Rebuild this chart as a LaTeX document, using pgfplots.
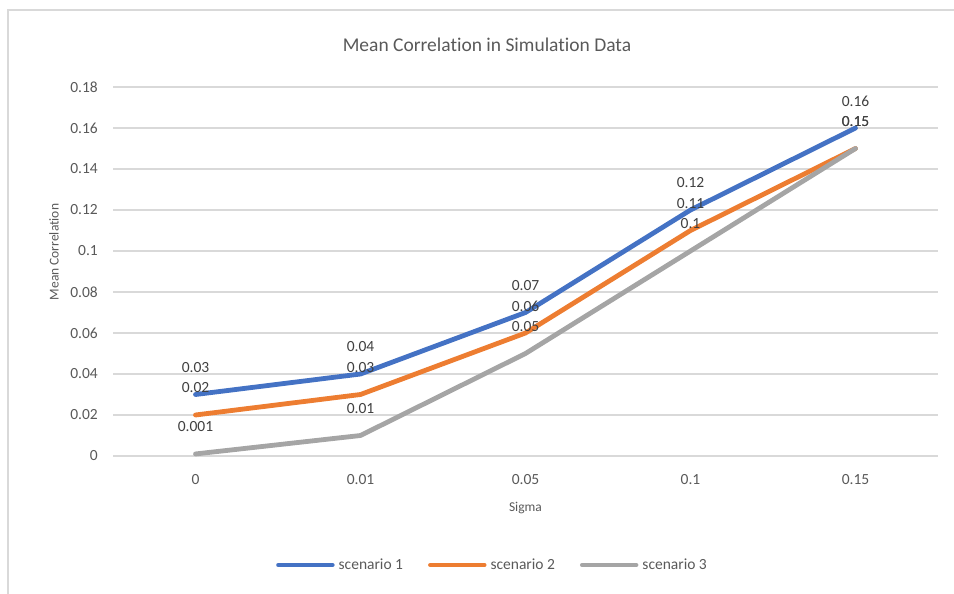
\documentclass[border=0pt]{standalone}
\usepackage{pgfplots}
\pgfplotsset{compat=1.18}
\usepackage{fontspec}
\setmainfont{Carlito}[Ligatures={NoCommon,NoRequired}, Contextuals=NoAlternate]
\definecolor{s1}{HTML}{4472C4}
\definecolor{s2}{HTML}{ED7D31}
\definecolor{s3}{HTML}{A5A5A5}
\definecolor{gridc}{HTML}{D9D9D9}
\definecolor{txt}{HTML}{595959}
\definecolor{lbl}{HTML}{404040}
\newcommand{\fs}[1]{\fontsize{#1}{#1}\selectfont}

\begin{document}
\begin{tikzpicture}
\path[use as bounding box] (0,0) rectangle (954bp,594bp);
\draw[gridc, line width=1.2bp] (8bp,0) -- (8bp,584bp) -- (954bp,584bp);
\node[txt, anchor=base, font=\fs{19.5bp}] at (487bp,542bp) {Mean Correlation in Simulation Data};
\begin{axis}[
  at={(113bp,138bp)}, anchor=south west,
  scale only axis, width=825bp, height=369bp,
  xmin=-0.5, xmax=4.5, ymin=0, ymax=0.18,
  clip=false, no markers,
  xtick={0,1,2,3,4}, xticklabels={0,0.01,0.05,0.1,0.15},
  ytick={0,0.02,0.04,0.06,0.08,0.1,0.12,0.14,0.16,0.18},
  yticklabels={0,0.02,0.04,0.06,0.08,0.1,0.12,0.14,0.16,0.18},
  axis line style={draw=none}, major tick length=0,
  ymajorgrids, grid style={gridc, line width=1.2bp},
  ticklabel style={txt, font=\fs{15.5bp}, inner sep=0},
  xticklabel style={anchor=base, yshift=-29bp},
  yticklabel style={anchor=east, xshift=-15bp},
  xlabel={Sigma}, ylabel={Mean Correlation},
  label style={txt, font=\fs{13.5bp}},
  xlabel style={at={(axis description cs:0.5,-0.1504)}, anchor=base},
  ylabel style={at={(axis description cs:-0.0715,0.5528)}, anchor=center},
  legend columns=3,
  legend style={at={(axis description cs:0.4594,-0.2954)}, anchor=center,
    draw=none, fill=none, font=\fs{15.5bp}, text=txt, inner sep=0,
    nodes={inner sep=1bp},
    /tikz/every odd column/.append style={column sep=3bp},
    /tikz/every even column/.append style={column sep=24bp}},
  legend image code/.code={\draw[#1, line width=4.5bp, line cap=round] (0bp,0bp) -- (54bp,0bp);},
  every node near coord/.append style={lbl, font=\fs{15.5bp}, anchor=center, yshift=27bp, inner sep=0},
]
% lines
\addplot[s1, line width=4.8bp, line join=round, line cap=round]
  coordinates {(0,0.03) (1,0.04) (2,0.07) (3,0.12) (4,0.16)};
\addlegendentry{scenario 1}
\addplot[s2, line width=4.8bp, line join=round, line cap=round]
  coordinates {(0,0.02) (1,0.03) (2,0.06) (3,0.11) (4,0.15)};
\addlegendentry{scenario 2}
\addplot[s3, line width=4.8bp, line join=round, line cap=round]
  coordinates {(0,0.001) (1,0.01) (2,0.05) (3,0.1) (4,0.15)};
\addlegendentry{scenario 3}
% data labels on top
\addplot[draw=none, forget plot, point meta=explicit symbolic, nodes near coords={\pgfplotspointmeta}]
  coordinates {(0,0.03)[0.03] (1,0.04)[0.04] (2,0.07)[0.07] (3,0.12)[0.12] (4,0.16)[0.16]};
\addplot[draw=none, forget plot, point meta=explicit symbolic, nodes near coords={\pgfplotspointmeta}]
  coordinates {(0,0.02)[0.02] (1,0.03)[0.03] (2,0.06)[0.06] (3,0.11)[0.11] (4,0.15)[0.15]};
\addplot[draw=none, forget plot, point meta=explicit symbolic, nodes near coords={\pgfplotspointmeta}]
  coordinates {(0,0.001)[0.001] (1,0.01)[0.01] (2,0.05)[0.05] (3,0.1)[0.1] (4,0.15)[0.15]};
\end{axis}
\end{tikzpicture}
\end{document}
